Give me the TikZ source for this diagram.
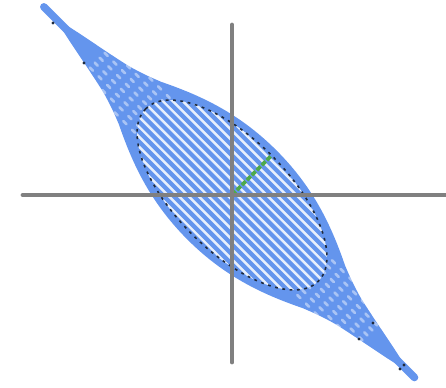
\documentclass[tikz,border=0pt]{standalone}
\usetikzlibrary{calc}
\definecolor{lensBlue}{HTML}{6495ED}
\definecolor{axisGray}{HTML}{808080}
\definecolor{radGreen}{HTML}{4FAA4A}
\definecolor{dashInk}{HTML}{1F2A3C}

\begin{document}
\begin{tikzpicture}[
  x=0.02cm,y=-0.02cm,
  axis/.style={draw=axisGray, line width=2.8pt, line cap=round},
  stripe/.style={draw=white, line width=1.4pt, opacity=.85},
  ghost/.style={draw=white, line width=1.5pt, opacity=.45, line cap=round,
                dash pattern=on 2.5pt off 4.5pt},
  rim/.style={draw=dashInk, line width=.9pt, dash pattern=on 1.6pt off 2.6pt},
  radius/.style={draw=radGreen, line width=2.2pt, dash pattern=on 3pt off 1pt},
  speck/.style={fill=dashInk, draw=none},
]
  \path[use as bounding box] (0,0) rectangle (446,387);
  \coordinate (O) at (232,195);

  % lens of chords along the major axis (local frame: u to top-left, v to top-right)
  \begin{scope}[shift={(O)}, x={(-0.014142cm,0.014142cm)}, y={(0.014142cm,0.014142cm)}]
    \coordinate (B) at (0,56);
    \draw[lensBlue, line width=4.4pt, line cap=round] (266,0) -- (-258,0);
    \begin{scope}
      \clip (245,0) .. controls (240,4) and (200,10) .. (165,18)
        .. controls (150,22) and (140,26) .. (130,30)
        .. controls (95,47) and (55,63) .. (0,63)
        .. controls (-55,63) and (-95,47) .. (-130,30)
        .. controls (-140,26) and (-150,22) .. (-165,18)
        .. controls (-200,10) and (-240,4) .. (-245,0)
        .. controls (-240,-4) and (-200,-10) .. (-165,-18)
        .. controls (-150,-22) and (-140,-26) .. (-130,-30)
        .. controls (-95,-47) and (-55,-63) .. (0,-63)
        .. controls (55,-63) and (95,-47) .. (130,-30)
        .. controls (140,-26) and (150,-22) .. (165,-18)
        .. controls (200,-10) and (240,-4) .. (245,0) -- cycle;
      \fill[lensBlue] (0,0) circle (300);
      \foreach \v in {-24.5,-17.5,...,24.5} {
        \draw[ghost] (-195,\v) -- (195,\v);
      }
    \end{scope}

    % inside the ellipse: plain stripes
    \begin{scope}
      \clip (0,0) ellipse [x radius=122, y radius=56];
      \fill[lensBlue] (0,0) circle (130);
      \foreach \v in {-52.5,-45.5,...,52.5} {
        \draw[stripe] (-130,\v) -- (130,\v);
      }
    \end{scope}
    \draw[radius] (0,0) -- (B);
    \draw[rim] (0,0) ellipse [x radius=122, y radius=56];
  \end{scope}

  % axes
  \coordinate (vTop) at (232,25);
  \coordinate (vBot) at (232,362);
  \coordinate (hLeft) at (23,195);
  \coordinate (hRight) at (446,195);
  \draw[axis] (vTop) -- (vBot);
  \draw[axis] (hLeft) -- (hRight);

  % stray dashes on the tails
  \foreach \x/\y in {53/23,84/63,373/323,359/339,404/365,400/369} {
    \fill[speck] (\x,\y) circle (1.6);
  }
\end{tikzpicture}
\end{document}
